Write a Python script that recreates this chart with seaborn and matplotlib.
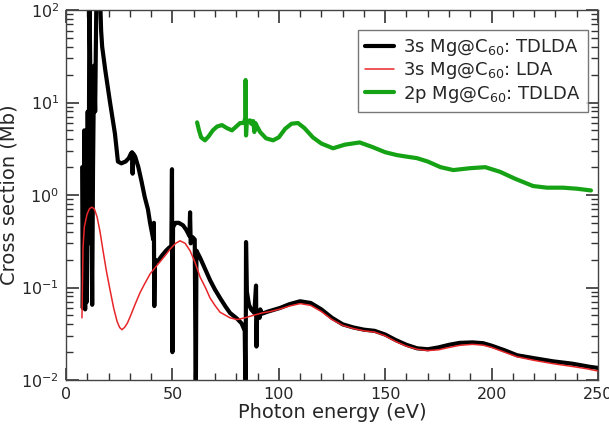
import matplotlib
matplotlib.use("Agg")
import matplotlib.pyplot as plt
import seaborn as sns
import pandas as pd
from matplotlib.ticker import MultipleLocator, LogLocator, NullFormatter

# ---- data ----
black_e = [7.6, 7.9, 8.3, 8.6, 9.0, 9.4, 9.8, 10.2, 10.6, 11.0, 11.5, 11.9, 12.3, 12.7,
           13.2, 13.7, 14.3, 15.0, 15.8, 16.5, 17.0, 18.5, 20.7, 23.0, 24.4, 26.0, 28.0,
           29.5, 30.5, 31.0, 31.3, 31.6, 32.5, 34.0, 35.5, 37.0, 38.5, 39.5, 40.5, 41.0,
           41.3, 41.5, 41.8, 43.0, 45.0, 47.0, 48.5, 49.5, 49.8, 50.0, 50.3, 51.5, 53.0,
           55.0, 56.5, 57.5, 58.0, 58.3, 58.6, 59.5, 60.5, 61.0, 61.3, 63.0, 67.7, 70.0,
           72.4, 75.0, 77.1, 80.4, 82.5, 84.0, 84.4, 84.6, 85.0, 86.0, 87.0, 88.5, 89.3,
           89.5, 89.8, 90.5, 91.0, 91.3, 92.0, 95.0, 100.5, 105, 110, 115, 120, 125, 130,
           135, 140, 145, 150, 155, 160, 165, 170, 175, 180, 185, 191, 196, 200, 206, 212,
           220, 229, 238, 246, 250]
black_s = [2.0, 0.06, 0.4, 5.0, 0.058, 1.2, 0.07, 8.0, 0.3, 150, 15, 0.9, 0.065, 2.0,
           25, 8, 150, 200, 200, 60, 40, 22, 10, 4.6, 2.3, 2.2, 2.3,
           2.5, 2.8, 2.9, 1.7, 2.8, 2.6, 2.0, 1.4, 0.95, 0.7, 0.5, 0.38, 0.33,
           0.5, 0.063, 0.2, 0.19, 0.22, 0.25, 0.27, 0.28, 1.9, 0.02, 0.45, 0.5, 0.5,
           0.47, 0.42, 0.38, 0.36, 0.65, 0.3, 0.35, 0.33, 0.005, 0.25, 0.21, 0.12, 0.095,
           0.077, 0.062, 0.053, 0.046, 0.041, 0.034, 0.005, 0.31, 0.09, 0.065, 0.058, 0.053, 0.105,
           0.023, 0.05, 0.055, 0.047, 0.058, 0.052, 0.055, 0.06, 0.066, 0.071, 0.068, 0.058, 0.047, 0.040,
           0.037, 0.035, 0.034, 0.031, 0.027, 0.024, 0.022, 0.0215, 0.0225, 0.024, 0.0252, 0.0255, 0.025, 0.0235, 0.021, 0.0185,
           0.0172, 0.0159, 0.015, 0.0139, 0.0135]

red_e = [7.5, 8.0, 8.6, 9.9, 11.0, 12.2, 13.4, 14.6, 16.0, 17.4, 19.0, 20.7, 22.4, 24.0,
         25.2, 26.3, 27.5, 28.8, 30.1, 32.5, 34.8, 37.0, 39.5, 42.0, 44.2, 46.5, 48.9,
         51.5, 53.6, 56.0, 58.3, 60.5, 63.0, 65.5, 67.7, 70.0, 72.4, 75.0, 77.1, 80.4,
         84, 88, 92, 96, 100, 105, 110, 115, 120, 125, 130, 135, 140, 145, 150, 155, 160,
         165, 170, 175, 180, 185, 191, 196, 200, 206, 212, 220, 229, 238, 245, 250]
red_s = [0.047, 0.27, 0.45, 0.62, 0.71, 0.74, 0.7, 0.58, 0.4, 0.25, 0.15, 0.094, 0.06, 0.043,
         0.037, 0.035, 0.037, 0.041, 0.048, 0.066, 0.088, 0.11, 0.14, 0.165, 0.19, 0.22, 0.26,
         0.3, 0.32, 0.3, 0.25, 0.19, 0.13, 0.1, 0.077, 0.064, 0.054, 0.05, 0.047, 0.045,
         0.047, 0.05, 0.053, 0.055, 0.058, 0.063, 0.067, 0.064, 0.055, 0.045, 0.039, 0.036, 0.034, 0.033, 0.030, 0.026, 0.0232,
         0.0215, 0.0208, 0.0212, 0.0225, 0.0237, 0.0243, 0.0238, 0.0225, 0.0200, 0.0178, 0.0163, 0.015, 0.014, 0.0132, 0.0125]

green_e = [61.6, 62.5, 63.5, 65.3, 67.0, 69.0, 71.0, 73.3, 75.5, 78.0, 80.0, 81.8, 83.5,
           84.3, 84.4, 84.6, 85.0, 86.5, 87.0, 88.0, 88.5, 89.0, 90.0, 91.2, 94.0, 97.3,
           100, 103, 106, 109, 112, 116, 120, 125.5, 131, 138, 144, 150, 155.5, 160, 165,
           170, 176, 182, 190, 197, 204, 211, 219.5, 226, 233.5, 240, 246.7]
green_s = [6.1, 5.0, 4.2, 3.9, 4.3, 5.0, 5.5, 5.7, 5.3, 5.0, 5.5, 6.0, 6.0,
           6.8, 17.5, 4.4, 6.3, 6.4, 5.9, 6.3, 4.8, 6.0, 5.4, 4.8, 4.1, 3.9,
           4.2, 5.2, 5.9, 6.0, 5.3, 4.2, 3.6, 3.2, 3.5, 3.7, 3.3, 2.9, 2.7, 2.6, 2.5,
           2.3, 2.0, 1.86, 1.95, 2.0, 1.78, 1.5, 1.25, 1.2, 1.2, 1.17, 1.12]

labels = ["3s Mg@C$_{60}$: TDLDA", "3s Mg@C$_{60}$: LDA", "2p Mg@C$_{60}$: TDLDA"]
colors = ["black", "#e8262a", "#15a214"]
widths = [3.0, 1.1, 3.0]

sns.set_style("ticks")

fig = plt.figure(figsize=(6.09, 4.25), dpi=100)
ax = fig.add_axes([66 / 609, 1 - 380 / 425, 532 / 609, 370 / 425])

for e, s, lab, c, w in zip([black_e, red_e, green_e], [black_s, red_s, green_s], labels, colors, widths):
    df = pd.DataFrame({"E": e, "S": s})
    sns.lineplot(data=df, x="E", y="S", ax=ax, color=c, lw=w, label=lab,
                 estimator=None, sort=False)

ax.set_yscale("log")
ax.set_xlim(0, 250)
ax.set_ylim(1e-2, 1e2)
ax.xaxis.set_major_locator(MultipleLocator(50))
ax.xaxis.set_minor_locator(MultipleLocator(10))
ax.yaxis.set_major_locator(LogLocator(base=10, numticks=10))
ax.yaxis.set_minor_locator(LogLocator(base=10, subs=tuple(range(2, 10)), numticks=20))
ax.yaxis.set_minor_formatter(NullFormatter())

ax.set_xlabel("Photon energy (eV)", fontsize=14, labelpad=1)
ax.set_ylabel("Cross section (Mb)", fontsize=14, labelpad=2)

leg = ax.legend(loc="upper right", bbox_to_anchor=(0.981, 0.946), borderaxespad=0,
                fontsize=13, frameon=True, fancybox=False, handlelength=1.6,
                handletextpad=0.5, labelspacing=0.12, borderpad=0.4)
leg.get_frame().set_edgecolor("#555555")
leg.get_frame().set_linewidth(1.0)

for sp in ax.spines.values():
    sp.set_color("#444444")
    sp.set_linewidth(1.0)

ax.tick_params(which="major", direction="in", top=True, right=True, length=9,
               width=1.2, color="#333333", labelsize=11.5, pad=5)
ax.tick_params(which="minor", direction="in", top=True, right=True, length=5,
               width=1.0, color="#333333")

fig.savefig("out.png", dpi=100)
